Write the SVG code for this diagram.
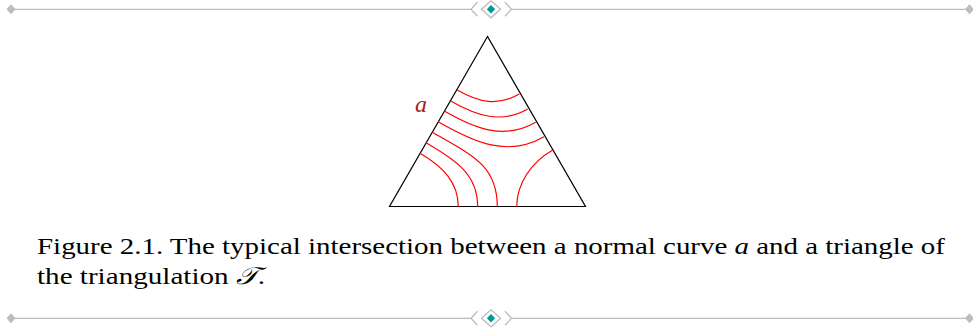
<svg xmlns="http://www.w3.org/2000/svg" xmlns:xlink="http://www.w3.org/1999/xlink" width="973" height="331" viewBox="0 0 973 331">
<style>
.rule{stroke:#bcbcbc;stroke-width:1.3;fill:none}
.dot{fill:#bcbcbc}
.teal{fill:#00999a}
.tri{fill:none;stroke:#000;stroke-width:1.2;stroke-linejoin:miter}
.curve{fill:none;stroke:#ff0000;stroke-width:1.2}
.cap{font-size:24px;fill:#000}
.lbl{font-size:24px;font-style:italic;fill:#a61e22}
</style>
<defs>
<g id="ornament">
<line class="rule" x1="11" y1="0" x2="471" y2="0"/>
<line class="rule" x1="511.5" y1="0" x2="969.5" y2="0"/>
<polygon class="dot" points="6.5,0 11,-5 15.5,0 11,5"/>
<polygon class="dot" points="965,0 969.5,-5 974,0 969.5,5"/>
<polyline class="rule" points="477.5,-7 471,0 477.5,7"/>
<polyline class="rule" points="505,-7 511.5,0 505,7"/>
<polygon class="rule" points="481.5,0 491,-8.5 500.5,0 491,8.5"/>
<polygon class="teal" points="486.8,0 491,-4.3 495.2,0 491,4.3"/>
</g>
</defs>
<g id="ornament-top"><use xlink:href="#ornament" transform="translate(0,9.3)"/></g>
<g id="triangle">
<polygon class="tri" points="487.5,36.5 389.5,206.5 585.5,206.5"/>
</g>
<g id="curves">
<path class="curve" d="M457.3,90 C479,102.5 497.6,106.5 519.3,94"/>
<path class="curve" d="M450.7,101 C476.7,116 501.7,124 527.7,109"/>
<path class="curve" d="M444.3,111 C475.5,129 504.5,140.3 535.7,122.3"/>
<path class="curve" d="M438.3,121.7 C474.7,142.7 507.6,157.7 544,136.7"/>
<path class="curve" d="M432.3,132.3 C471.3,154.8 497.3,165 497.3,206.7"/>
<path class="curve" d="M426,142.7 C457.2,160.7 477.7,175 477.7,206.7"/>
<path class="curve" d="M420,153.3 C443.4,166.8 458.3,183 458.3,206.7"/>
<path class="curve" d="M552.7,150 C531,162.5 516.7,184 516.7,206.7"/>
</g>
<g id="label-a"><text class="lbl" font-family="Liberation Serif, Times New Roman, serif" x="415" y="112">a</text></g>
<g id="caption">
<text class="cap" font-family="Liberation Serif, Times New Roman, serif" x="37" y="254" textLength="908" lengthAdjust="spacingAndGlyphs">Figure 2.1. The typical intersection between a normal curve <tspan font-style="italic">a</tspan> and a triangle of</text>
<text class="cap" font-family="Liberation Serif, Times New Roman, serif" x="37" y="284" textLength="228" lengthAdjust="spacingAndGlyphs">the triangulation <tspan font-style="italic">𝒯</tspan>.</text>
</g>
<g id="ornament-bottom"><use xlink:href="#ornament" transform="translate(0,318.3)"/></g>
</svg>
